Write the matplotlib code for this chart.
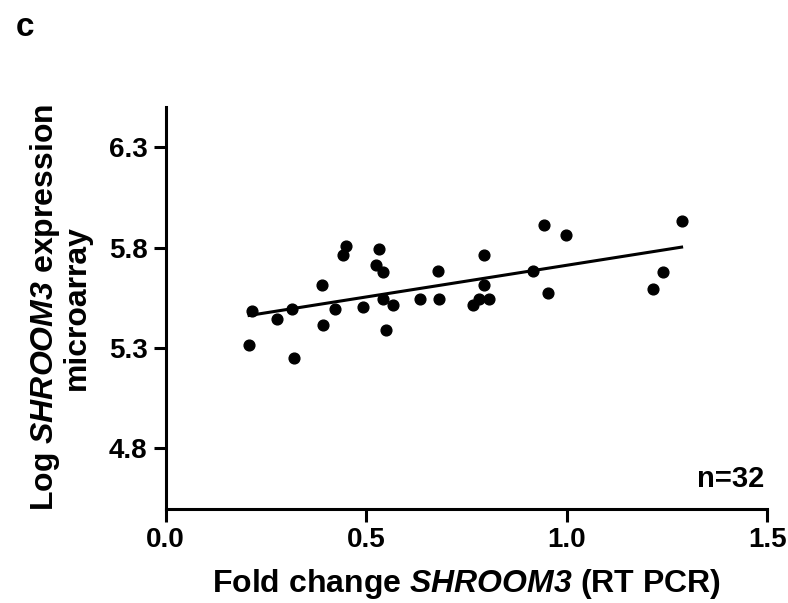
import numpy as np
import matplotlib.pyplot as plt

plt.rcParams['font.family'] = ['Liberation Sans', 'DejaVu Sans']
plt.rcParams['mathtext.fontset'] = 'custom'
plt.rcParams['mathtext.rm'] = 'Liberation Sans'
plt.rcParams['mathtext.bf'] = 'Liberation Sans:bold'
plt.rcParams['mathtext.it'] = 'Liberation Sans:italic'
plt.rcParams['mathtext.bfit'] = 'Liberation Sans:italic:bold'

# fold change SHROOM3 (RT PCR) vs log SHROOM3 microarray expression
fold_change = [0.214, 0.208, 0.278, 0.314, 0.320, 0.389, 0.393, 0.423,
               0.449, 0.443, 0.492, 0.532, 0.523, 0.542, 0.541, 0.567,
               0.548, 0.634, 0.682, 0.679, 0.793, 0.793, 0.767, 0.781,
               0.806, 0.916, 0.952, 0.997, 0.943, 1.286, 1.240, 1.215]
log_expr = [5.485, 5.314, 5.443, 5.493, 5.248, 5.616, 5.413, 5.493,
            5.806, 5.762, 5.504, 5.792, 5.715, 5.676, 5.546, 5.516,
            5.389, 5.543, 5.543, 5.684, 5.765, 5.616, 5.513, 5.546,
            5.543, 5.684, 5.576, 5.861, 5.914, 5.932, 5.676, 5.594]
x_ticks = [0.0, 0.5, 1.0, 1.5]
y_ticks = [4.8, 5.3, 5.8, 6.3]

x = np.array(fold_change)
y = np.array(log_expr)
slope, intercept = np.polyfit(x, y, 1)
xfit = np.array([x.min(), x.max()])

fig = plt.figure(figsize=(7.88, 6.03), dpi=100)
ax = fig.add_axes([0.2103, 0.1565, 0.7636, 0.6661])

ax.scatter(x, y, s=60, color='black', zorder=3)
ax.plot(xfit, slope * xfit + intercept, color='black', lw=2.2)

ax.set_xlim(0, 1.5)
ax.set_ylim(4.5, 6.5)
ax.set_xticks(x_ticks)
ax.set_xticklabels([f"{t:.1f}" for t in x_ticks])
ax.set_yticks(y_ticks)
ax.set_yticklabels([f"{t:.1f}" for t in y_ticks])

for s in ['top', 'right']:
    ax.spines[s].set_visible(False)
for s in ['left', 'bottom']:
    ax.spines[s].set_linewidth(2.2)
ax.tick_params(width=2.2, length=9, labelsize=20, pad=4)
for lab in ax.get_xticklabels() + ax.get_yticklabels():
    lab.set_fontweight('bold')

ax.set_xlabel("Fold change $\\bfit{SHROOM3}$ (RT PCR)", fontsize=23,
              fontweight='bold', labelpad=10)
ax.set_ylabel("Log $\\bfit{SHROOM3}$ expression\nmicroarray", fontsize=23,
              fontweight='bold', labelpad=12, linespacing=1.0)

ax.text(0.995, 0.038, "n=32", transform=ax.transAxes, ha='right',
        va='bottom', fontsize=21, fontweight='bold')
fig.text(0.02, 0.94, "c", fontsize=24, fontweight='bold')

fig.savefig('out.png', dpi=100)
